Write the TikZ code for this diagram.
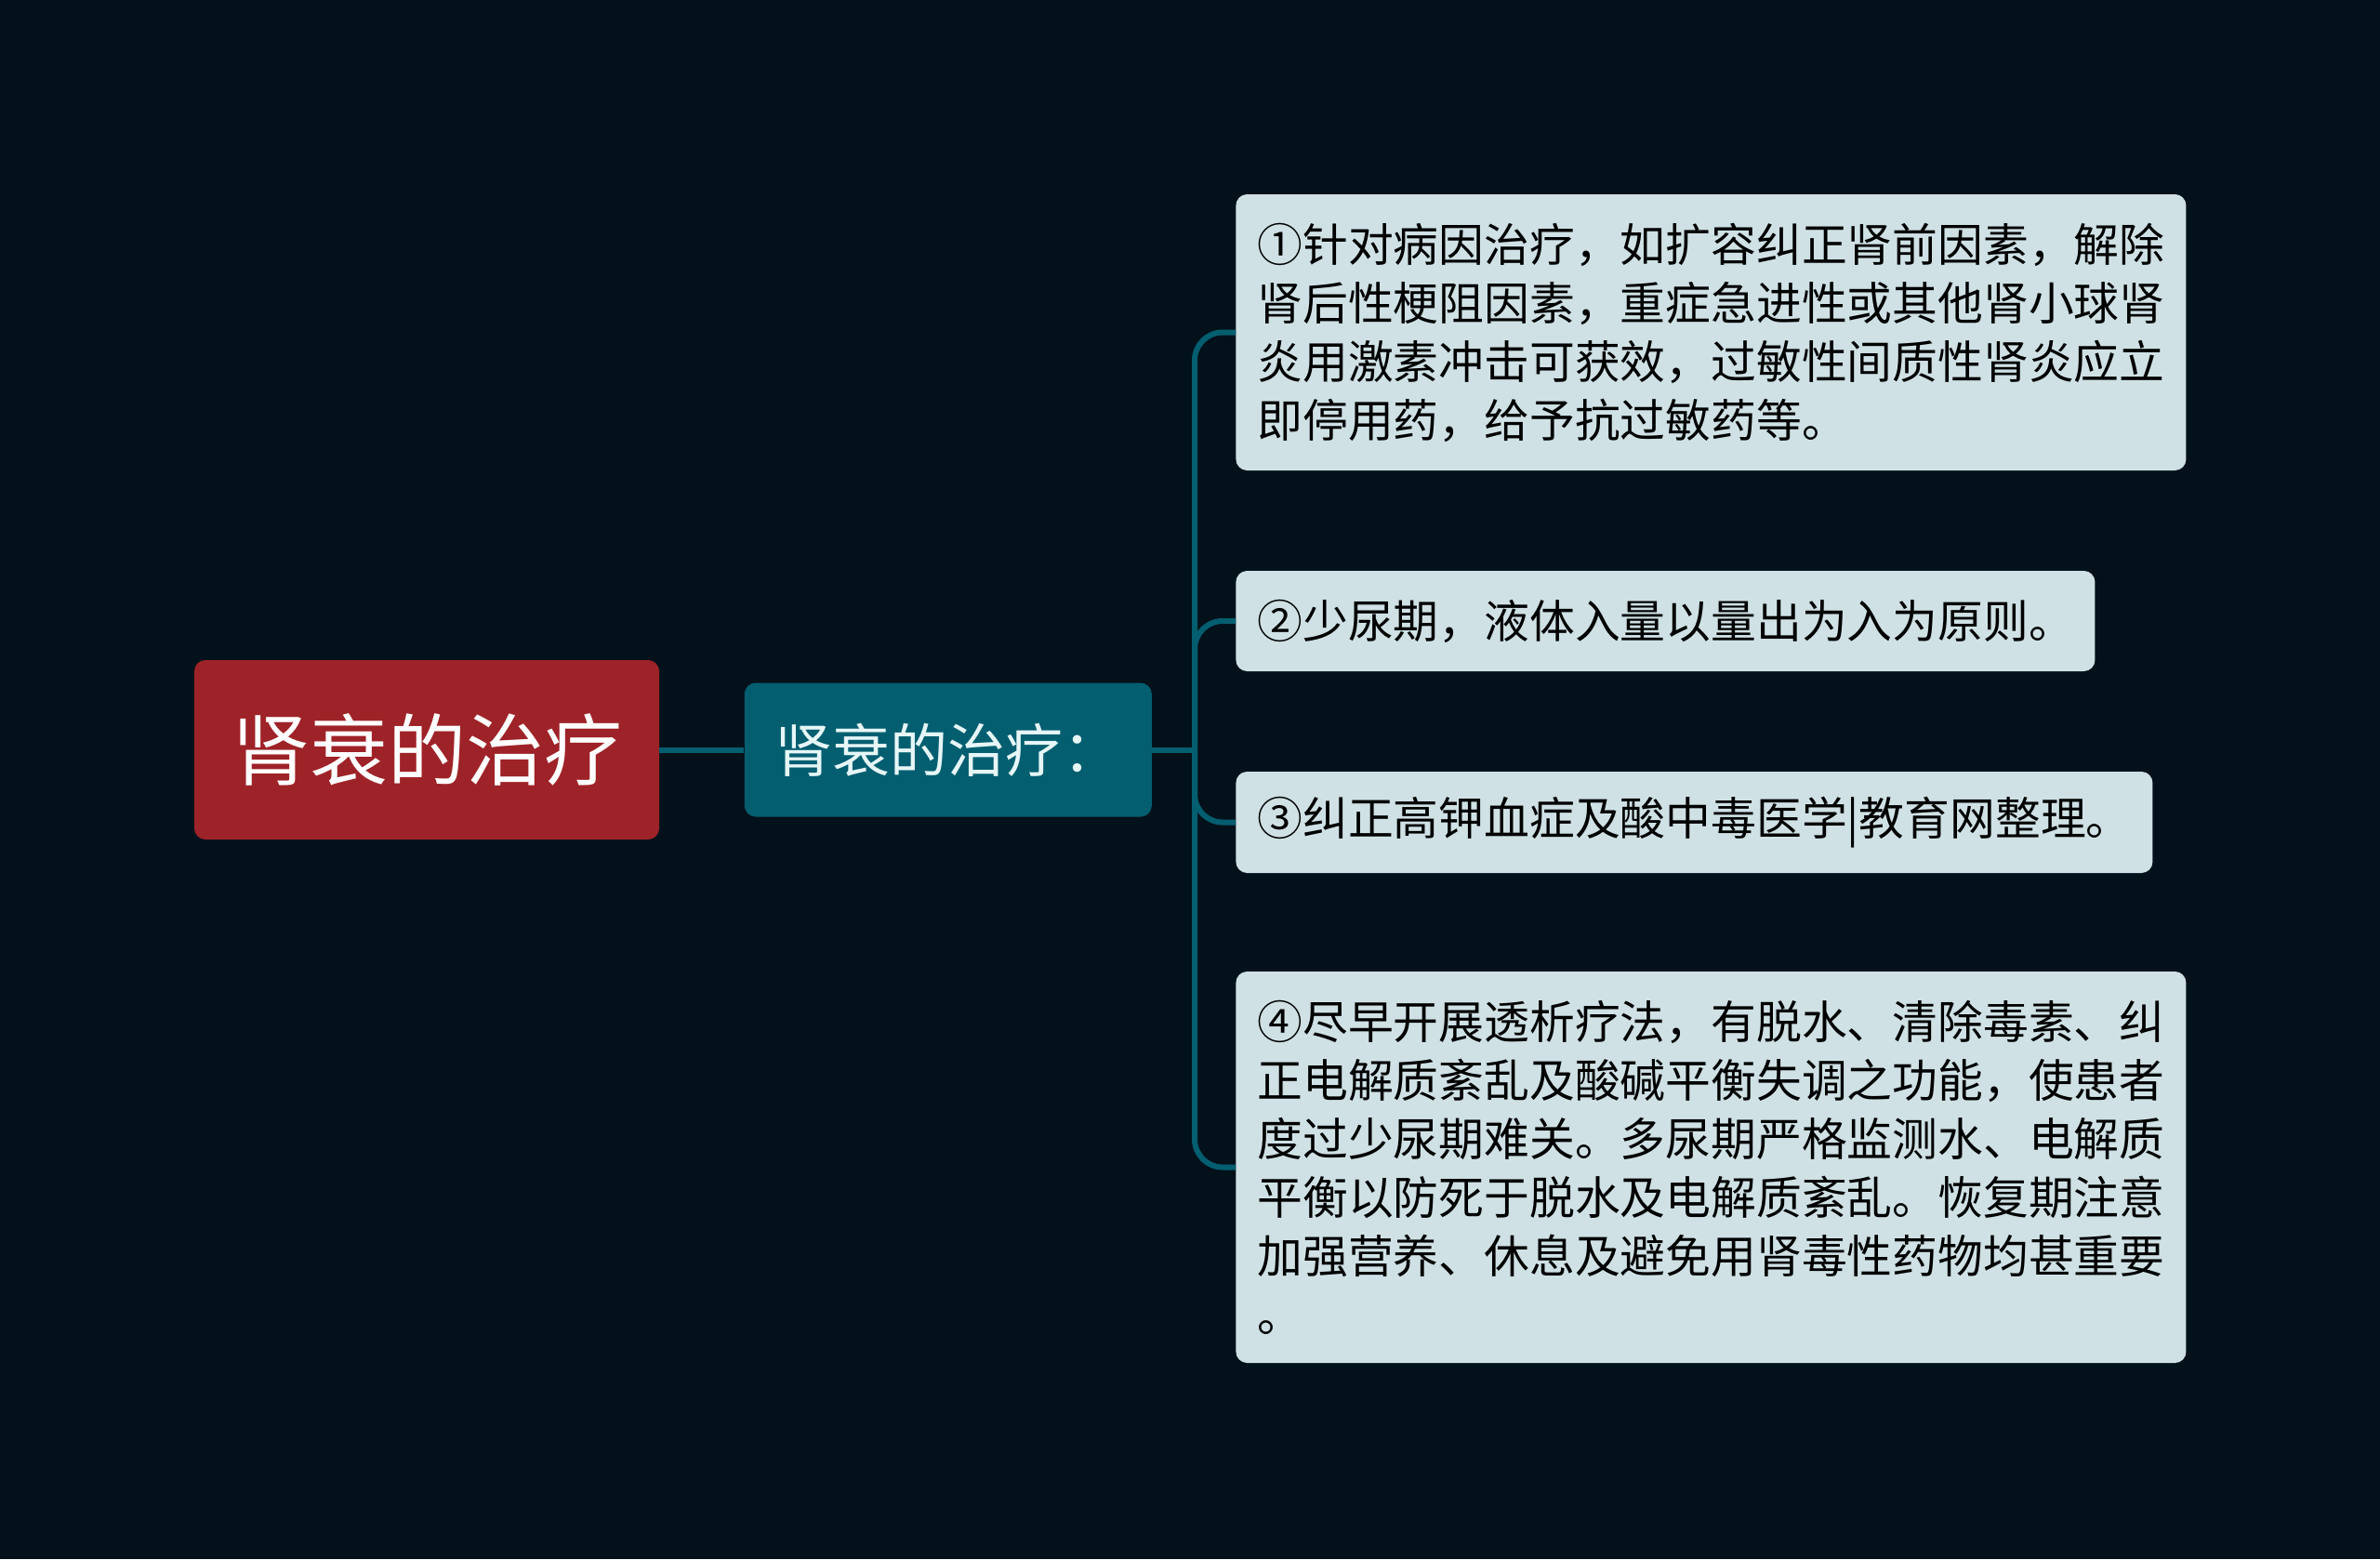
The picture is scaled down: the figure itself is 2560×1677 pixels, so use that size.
\documentclass[tikz,border=0pt]{standalone}
\usepackage{fontspec}
\usetikzlibrary{positioning}
\newfontfamily\cjk{Noto Sans CJK SC}
\definecolor{bgdark}{HTML}{03111A}
\definecolor{rootred}{HTML}{9E2328}
\definecolor{topicteal}{HTML}{035E70}
\definecolor{leafgray}{HTML}{CFE1E5}
\definecolor{topictext}{HTML}{E6F6F6}

\begin{document}
\begin{tikzpicture}[x=0.5pt, y=-0.5pt,
    root node/.style={rectangle,rounded corners=6pt,fill=rootred,text=white,minimum width=250pt,minimum height=96.5pt,font=\cjk\fontsize{42}{50}\selectfont},
    topic node/.style={rectangle,rounded corners=6pt,fill=topicteal,text=topictext,minimum width=219pt,minimum height=72pt,font=\cjk\fontsize{31}{36}\selectfont},
    leaf node/.style={rectangle,rounded corners=6pt,fill=leafgray,text=black,align=left,inner xsep=11.5pt,inner ysep=0pt,anchor=west,font=\cjk\fontsize{24.4}{31.5}\selectfont},
    link/.style={draw=topicteal,line width=3pt,rounded corners=15pt}]

  \fill[bgdark] (0,0) rectangle (2560,1677);

  \node[root node] (root) at (459,806.5) {肾衰的治疗};
  \node[topic node] (topic) [right=45.5pt of root] {肾衰的治疗：};

  \node[leaf node,text width=488pt,minimum height=148.5pt] (c1) at (1329,357.5)
    {①针对病因治疗，如扩容纠正肾前因素，解除\\肾后性梗阻因素，重症急进性或其他肾小球肾\\炎用激素冲击可获效，过敏性间质性肾炎应立\\即停用药，给予抗过敏药等。};
  \node[leaf node,text width=439pt,minimum height=54pt] (c2) at (1329,668)
    {②少尿期，液体入量以量出为入为原则。};
  \node[leaf node,text width=470pt,minimum height=54.5pt] (c3) at (1329,884.5)
    {③纠正高钾血症及酸中毒医学|教育网整理。};
  \node[leaf node,text width=488pt,minimum height=210.5pt] (c4) at (1329,1255.5)
    {④尽早开展透析疗法，有脱水、清除毒素、纠\\正电解质紊乱及酸碱平衡失调之功能，使患者\\度过少尿期难关。多尿期严格监测水、电解质\\平衡以防死于脱水及电解质紊乱。恢复期注意\\加强营养、休息及避免用肾毒性药物均甚重要\\。};

  \coordinate (fork) at (1285,806.5);

  \draw[link] (root) -- (topic);
  \draw[link] (topic) -- (fork);
  \foreach \c in {c1,c2,c3,c4}
    \draw[link] (fork) |- (\c.west);

\end{tikzpicture}
\end{document}
